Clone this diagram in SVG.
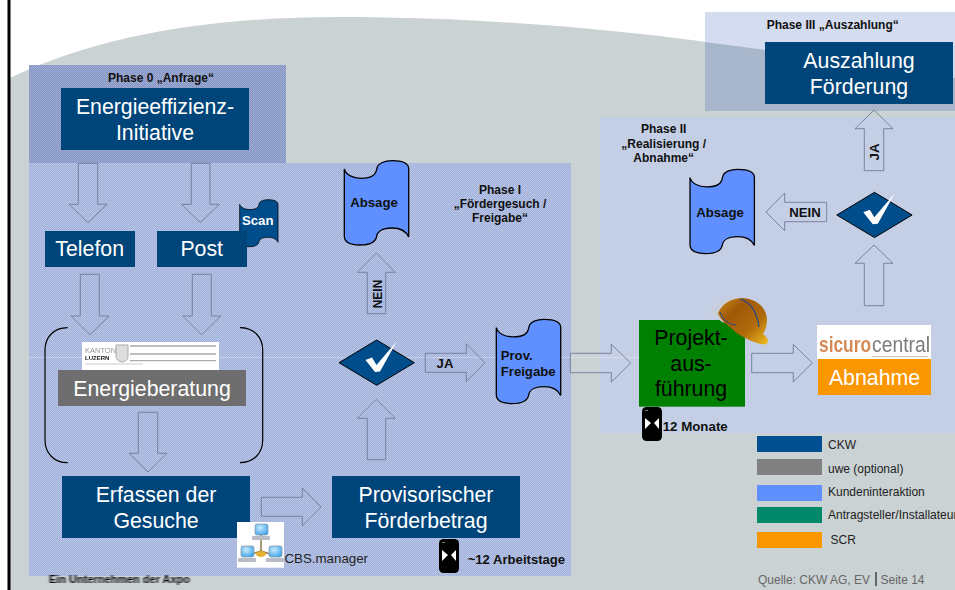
<svg xmlns="http://www.w3.org/2000/svg" xmlns:xlink="http://www.w3.org/1999/xlink" width="955" height="590" viewBox="0 0 955 590">
<style>
text{font-family:"Liberation Sans",Arial,sans-serif}
.box{fill:#00457a}
.w{fill:#fff;font-size:21.3px;text-anchor:middle}
.k{fill:#000;font-size:21.3px;text-anchor:middle}
.b{font-weight:bold;font-size:12px;fill:#111;text-anchor:middle}
.b12{font-weight:bold;font-size:13.2px;fill:#111;text-anchor:middle}
.l{font-size:12px;fill:#222}
.arr{fill:none;stroke:#6f7c98;stroke-width:.9}
.tape{stroke:#000;stroke-width:1.3;vector-effect:non-scaling-stroke}
</style>
<defs>
<pattern id="d1" width="2" height="2" patternUnits="userSpaceOnUse"><rect width="2" height="2" fill="#a2b2db"/><rect width="1" height="1" fill="#b6c3e4"/><rect x="1" y="1" width="1" height="1" fill="#b6c3e4"/></pattern>
<pattern id="d0" width="2" height="2" patternUnits="userSpaceOnUse"><rect width="2" height="2" fill="#8596c5"/><rect width="1" height="1" fill="#9dabd2"/><rect x="1" y="1" width="1" height="1" fill="#9dabd2"/></pattern>
<linearGradient id="gold" x1="0" y1="0" x2="1" y2="1"><stop offset="0" stop-color="#d09018"/><stop offset=".3" stop-color="#a05808"/><stop offset=".65" stop-color="#b06a0a"/><stop offset="1" stop-color="#f0c020"/></linearGradient>
<radialGradient id="screen" cx=".4" cy=".35" r=".7"><stop offset="0" stop-color="#c8ecff"/><stop offset="1" stop-color="#3ea4ea"/></radialGradient>
<filter id="blur" x="-5%" y="-30%" width="110%" height="160%"><feGaussianBlur stdDeviation=".8 .5"/></filter>
<filter id="blur2" x="-5%" y="-20%" width="110%" height="140%"><feGaussianBlur stdDeviation=".4"/></filter>
<path id="tape" d="M344.3 169C346 175 353 178.3 361 178.3C372 178.3 376 175 377 168C378 163 385 160.7 392 160.7C401 160.7 408.7 163 408.7 169L408.7 237C406 231 400 228 392 228C382 228 377 232 376.5 237C375 243 368 245 360 245C350 245 344.3 242 344.3 236Z"/>
<g id="check"><polygon points="339,362.7 376.7,340 414.3,362.7 376.7,385.3" fill="#004d8c" stroke="#000" stroke-width="1"/><polygon points="365.5,360 372,357.5 376.5,365 397,341 380,371.5 375,372" fill="#fff"/></g>
<g id="glass"><rect x="0" y="0" width="20" height="34" rx="4.500" fill="#000"/><polygon points="3,11 9,16 3,22" fill="#fff"/><polygon points="17,11 12,16 17,22" fill="#fff"/><rect x="3" y="3" width="3" height="1" fill="#777"/></g>
<g id="pc"><rect x="3" y="0" width="13" height="11" rx="2" fill="url(#screen)" stroke="#8a9aaa" stroke-width=".8"/><rect x="0" y="12" width="18" height="4" rx="1" fill="#b8bcc4"/></g>
</defs>

<g id="background">
<rect width="955" height="590" fill="#fff"/>
<path d="M10 78C110 30 230 17 340 17C480 17 620 30 705 42L765 50C850 60 905 70 955 78L955 590L10 590Z" fill="#cbd2d4"/>
<rect x="7.500" y="0" width="3" height="590" fill="#000"/>
</g>

<g id="panels">
<rect id="phase3-panel" x="705" y="12" width="250" height="99" fill="#00329f" fill-opacity=".17"/>
<rect id="phase2-panel" x="600" y="117" width="355" height="316" fill="#c4cfe6"/>
<rect id="phase0-panel" x="29" y="65" width="257" height="98" fill="url(#d0)"/>
<rect id="phase1-panel" x="29" y="163" width="542" height="413" fill="url(#d1)"/>
<line x1="29" y1="357.500" x2="640" y2="357.500" stroke="#fff" stroke-opacity=".3"/>
<text class="b" x="161" y="82">Phase 0 „Anfrage“</text>
<text class="b" x="500" y="193.500">Phase I</text>
<text class="b" x="500" y="207.500">„Fördergesuch /</text>
<text class="b" x="500" y="222">Freigabe“</text>
<text class="b" x="663.700" y="133">Phase II</text>
<text class="b" x="663.700" y="147.500">„Realisierung /</text>
<text class="b" x="663.700" y="162">Abnahme“</text>
<text class="b" x="766.700" y="29" style="text-anchor:start">Phase III „Auszahlung“</text>
</g>

<g id="connectors">
<polygon class="arr" points="78.300,163.300 97.700,163.300 97.700,204.300 107,204.300 88,222.700 69,204.300 78.300,204.300"/>
<polygon class="arr" points="191.300,163.300 210,163.300 210,204.300 219.300,204.300 200.300,222.700 181.300,204.300 191.300,204.300"/>
<polygon class="arr" points="80.300,274.300 99.300,274.300 99.300,316 109,316 90,334.700 71,316 80.300,316"/>
<polygon class="arr" points="192.300,274.300 211.300,274.300 211.300,316 220.700,316 201.700,334.700 182.700,316 192.300,316"/>
<polygon class="arr" points="138.300,412.300 157.700,412.300 157.700,453.300 167,453.300 148,472 129,453.300 138.300,453.300"/>
<polygon class="arr" points="261.300,497.300 302.300,497.300 302.300,488 321,507 302.300,526 302.300,516.300 261.300,516.300"/>
<polygon class="arr" points="367.300,459.700 385.700,459.700 385.700,418.300 395.300,418.300 376.300,399.300 357.300,418.300 367.300,418.300"/>
<polygon class="arr" points="367.300,313.700 385.700,313.700 385.700,272.300 395.300,272.300 376.300,253 357.300,272.300 367.300,272.300"/>
<polygon class="arr" points="425.300,353.300 466.300,353.300 466.300,343.700 485,362.700 466.300,381.700 466.300,372.300 425.300,372.300"/>
<polygon class="arr" points="570.300,353.300 611.300,353.300 611.300,344.300 630.700,363 611.300,382 611.300,372.700 570.300,372.700"/>
<polygon class="arr" points="751.700,353.300 793.300,353.300 793.300,344.300 812.300,363 793.300,382 793.300,372.700 751.700,372.700"/>
<polygon class="arr" points="864.300,305.700 883.700,305.700 883.700,263.300 893,263.300 874,245 855,263.300 864.300,263.300"/>
<polygon class="arr" points="864.300,170.700 883.700,170.700 883.700,128.700 893,128.700 874,110 855,128.700 864.300,128.700"/>
<polygon class="arr" points="826.700,202.300 784.700,202.300 784.700,193 766,212 784.700,230.700 784.700,221.700 826.700,221.700"/>
<text class="b" transform="translate(381.500 294) rotate(-90)">NEIN</text>
<text class="b12" transform="translate(878.800 152) rotate(-90)">JA</text>
<text class="b12" x="445" y="367.700">JA</text>
<text class="b12" x="805" y="217">NEIN</text>
<path d="M67.700 327.700C54 327.700 45 337 45 350L45 440C45 453 54 462.700 67.700 462.700" fill="none" stroke="#000" stroke-width="1.200"/>
<path d="M240 327.700C253.700 327.700 262.700 337 262.700 350L262.700 440C262.700 453 253.700 462.700 240 462.700" fill="none" stroke="#000" stroke-width="1.200"/>
</g>

<g id="node-energieeffizienz">
<rect class="box" x="61" y="88" width="188" height="62"/>
<text class="w" x="155" y="114">Energieeffizienz-</text>
<text class="w" x="155" y="139.500">Initiative</text>
</g>
<g id="node-telefon">
<rect class="box" x="45" y="231" width="90" height="36"/>
<text class="w" x="89.700" y="256">Telefon</text>
</g>
<g id="node-scan">
<use xlink:href="#tape" href="#tape" class="tape" fill="#004d8c" transform="translate(239.700 199.700) scale(.595 .558) translate(-344.300 -160.700)"/>
<text class="b12" x="257.700" y="225" style="fill:#fff">Scan</text>
</g>
<g id="node-post">
<rect class="box" x="157" y="231" width="90" height="36"/>
<text class="w" x="201.700" y="256">Post</text>
</g>
<g id="node-energieberatung">
<g id="kanton-logo">
<rect x="82" y="342" width="137" height="28" fill="#fff"/>
<g filter="url(#blur2)">
<text x="85" y="352.500" style="font-size:7.500px;fill:#999">KANTON</text>
<text x="85" y="360" style="font-size:6px;font-weight:bold;fill:#222">LUZERN</text>
<path d="M116 345H128V356Q128 361 122 362Q116 361 116 356Z" fill="#ddd" stroke="#aaa"/>
<path d="M130 346H216M130 354H216M130 360.700H216" stroke="#aaa" stroke-width="1.300" fill="none"/>
<path d="M85 364H143" stroke="#ccc" stroke-width="1.200" fill="none"/>
</g>
</g>
<rect x="58" y="370" width="188" height="36" fill="#6e6e6e"/>
<text class="w" x="152" y="395.700">Energieberatung</text>
</g>
<g id="node-erfassen">
<rect class="box" x="62" y="476" width="188" height="62"/>
<text class="w" x="156" y="501.700">Erfassen der</text>
<text class="w" x="156" y="527.700">Gesuche</text>
</g>
<g id="node-provisorisch">
<rect class="box" x="332" y="476" width="188" height="62"/>
<text class="w" x="426" y="501.700">Provisorischer</text>
<text class="w" x="426" y="527.700">Förderbetrag</text>
</g>
<g id="node-cbs">
<rect x="237" y="522" width="47" height="45.700" fill="#fff"/>
<path d="M261 535V553M246 556L261 551L276 556" stroke="#8a7a40" stroke-width="1.500" fill="none"/>
<ellipse cx="261" cy="554" rx="5" ry="3" fill="#e8b030"/>
<use xlink:href="#pc" href="#pc" x="252" y="524"/>
<use xlink:href="#pc" href="#pc" x="238" y="546"/>
<use xlink:href="#pc" href="#pc" x="266" y="546"/>
<text x="284.500" y="563.300" style="font-size:13.300px;fill:#222">CBS.manager</text>
</g>
<g id="node-zeit1">
<use xlink:href="#glass" href="#glass" x="439" y="539"/>
<text x="467.700" y="564" style="font-size:13.100px;font-weight:bold;fill:#111">~12 Arbeitstage</text>
</g>
<g id="node-absage1">
<use xlink:href="#tape" href="#tape" class="tape" fill="#6090ff"/>
<text class="b12" x="374" y="207">Absage</text>
</g>
<g id="node-check1"><use xlink:href="#check" href="#check"/></g>
<g id="node-freigabe">
<use xlink:href="#tape" href="#tape" class="tape" fill="#6090ff" transform="translate(152 158.600)"/>
<text class="b12" x="500.700" y="360" style="text-anchor:start">Prov.</text>
<text class="b12" x="500.700" y="376" style="text-anchor:start">Freigabe</text>
</g>
<g id="node-projekt">
<rect x="639" y="320" width="106" height="86.700" fill="#008000"/>
<text class="k" x="691" y="345">Projekt-</text>
<text class="k" x="691" y="371">aus-</text>
<text class="k" x="691" y="396">führung</text>
<g id="helmet">
<path d="M711 313C716 303 726 297 735 297L745 300L735 325L722 322Z" fill="#c9cdd6"/>
<path d="M718 313C722 303 733 298 743 298C757 299 767 308 767 320C767 326 765 331 763 334C766 336 768 339 768 342C767 345 762 345 757 343C748 340 738 335 731 328C725 323 720 319 718 313Z" fill="url(#gold)"/>
<path d="M720 312C722 319 729 325 736 325" stroke="#1a4a8a" stroke-width="1" fill="none"/>
<path d="M740 299C750 302 757 312 759 327" stroke="#1a4a8a" stroke-width="1.200" fill="none"/>
</g>
<use xlink:href="#glass" href="#glass" x="642" y="407"/>
<text x="662.700" y="431" style="font-size:13.300px;font-weight:bold;fill:#111">12 Monate</text>
</g>
<g id="node-abnahme">
<rect x="817" y="325" width="114" height="34" fill="#fff"/>
<g filter="url(#blur2)">
<text x="819" y="352" textLength="52" lengthAdjust="spacingAndGlyphs" style="font-size:22px;font-weight:bold;fill:#d58a55">sicuro</text>
<text x="872" y="352" textLength="58" lengthAdjust="spacingAndGlyphs" style="font-size:22px;fill:#7b7b7b">central</text>
<path d="M872 356.500H928" stroke="#ccc" fill="none"/>
</g>
<rect x="818" y="359" width="113" height="36" fill="#fa9600"/>
<text class="w" x="874.500" y="385">Abnahme</text>
</g>
<g id="node-check2"><use xlink:href="#check" href="#check" transform="translate(497.800 -147.700)"/></g>
<g id="node-absage2">
<use xlink:href="#tape" href="#tape" class="tape" fill="#6090ff" transform="translate(345.700 8.600)"/>
<text class="b12" x="720" y="217">Absage</text>
</g>
<g id="node-auszahlung">
<rect class="box" x="765" y="42" width="188" height="62"/>
<text class="w" x="859" y="68">Auszahlung</text>
<text class="w" x="859" y="93.500">Förderung</text>
</g>

<g id="legend">
<rect x="757" y="436" width="65" height="16" fill="#005091"/>
<rect x="757" y="459" width="65" height="16" fill="#808080"/>
<rect x="757" y="485" width="65" height="16" fill="#6090ff"/>
<rect x="757" y="507" width="65" height="16" fill="#008a6a"/>
<rect x="757" y="532" width="65" height="16" fill="#fa9600"/>
<text class="l" x="828" y="449">CKW</text>
<text class="l" x="828" y="473">uwe (optional)</text>
<text class="l" x="828" y="496">Kundeninteraktion</text>
<text class="l" x="828" y="519">Antragsteller/Installateur</text>
<text class="l" x="830.500" y="544">SCR</text>
</g>

<g id="footer">
<text x="49" y="583" textLength="141" lengthAdjust="spacingAndGlyphs" filter="url(#blur)" style="font-size:11px;font-weight:bold;fill:#111">Ein Unternehmen der Axpo</text>
<text x="758" y="584" style="font-size:12px;fill:#666">Quelle: CKW AG, EV</text>
<rect x="875" y="572" width="2" height="14" fill="#666"/>
<text x="880.500" y="584" style="font-size:12px;fill:#666">Seite 14</text>
</g>
</svg>
